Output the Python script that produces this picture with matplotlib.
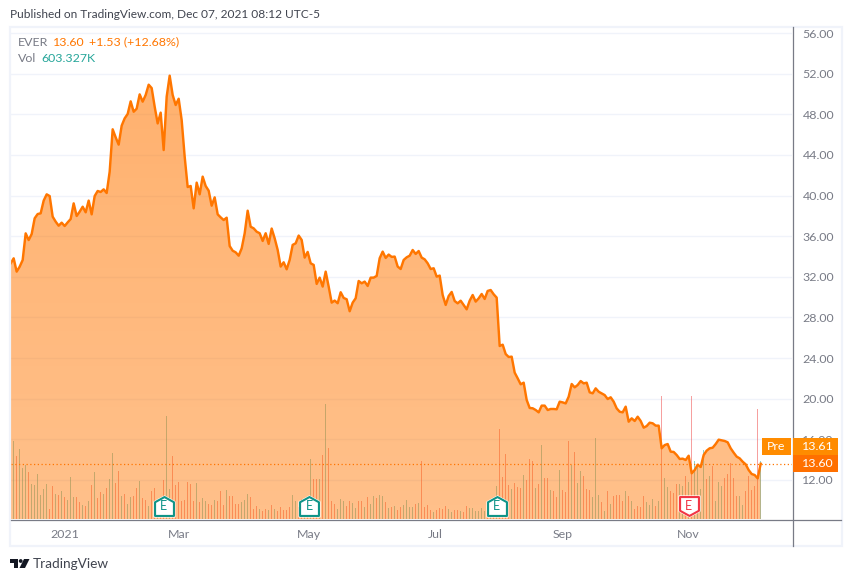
import numpy as np
import matplotlib
matplotlib.use("Agg")
import matplotlib.pyplot as plt
from matplotlib.lines import Line2D
from matplotlib.patches import Rectangle, Polygon, Circle
from matplotlib.path import Path
from matplotlib.colors import to_rgb

plt.rcParams['font.family'] = ['Lato', 'DejaVu Sans']

price = [
33.33,33.82,32.51,33.0,33.65,36.28,35.62,36.21,37.76,38.18,38.25,39.5,40.12,39.95,37.92,37.43,37.03,37.33,37.0,37.36,
37.69,39.23,37.99,38.41,38.9,38.35,39.5,38.15,39.95,40.45,40.35,40.61,40.25,42.35,46.52,45.73,45.01,46.88,47.6,48.03,
49.27,48.25,48.55,49.96,49.24,49.9,50.91,50.58,48.75,47.1,48.16,44.48,49.73,51.8,49.9,48.91,49.53,47.43,43.83,40.84,
40.94,38.74,41.27,40.12,41.86,40.94,40.48,39.0,39.82,38.15,37.85,37.59,37.82,35.03,34.57,34.41,34.08,34.8,36.28,38.51,
36.93,36.77,36.44,
36.29,35.53,36.29,35.24,36.75,35.79,34.65,33.01,33.43,32.74,33.66,35.14,35.3,36.06,35.63,33.89,34.45,33.33,33.17,31.3,
31.92,31.04,32.51,31.04,29.46,29.66,29.4,30.48,29.92,29.79,28.61,29.46,29.89,31.59,31.36,31.53,31.1,31.92,31.92,32.09,
33.83,34.48,33.86,34.19,33.96,33.99,33.01,
32.77,33.66,33.92,34.08,34.64,34.25,34.54,33.89,33.72,33.33,32.77,32.84,32.02,32.12,30.21,29.23,30.11,30.51,29.62,29.39,
29.65,29.23,28.8,29.65,30.21,29.56,29.88,30.31,29.82,30.61,30.7,30.28,29.95,25.19,25.32,24.4,24.11,24.14,22.57,22.01,
21.42,21.58,19.88,19.09,19.06,18.89,18.66,19.32,19.32,18.89,18.99,18.99,18.96,19.71,
19.64,19.54,20.2,21.45,21.12,21.35,21.74,21.51,21.58,20.63,20.53,21.02,20.69,20.53,20.36,19.97,20.14,19.71,19.05,18.72,
18.66,19.22,17.74,18.07,17.81,18.23,17.81,17.15,17.31,17.64,17.58,17.35,17.35,15.12,15.44,15.54,14.79,14.76,14.46,14.07,
14.1,13.97,14.39,12.66,12.98,13.51,13.28,14.46,14.89,15.12,15.18,15.54,15.97,15.9,15.84,15.71,15.12,14.69,14.3,14.13,
13.8,13.54,12.98,12.59,12.49,12.16,13.6]

volume = [
3.0,7.8,6.3,7.0,5.1,5.4,4.7,3.5,3.4,4.5,2.4,3.0,3.5,1.0,3.3,2.5,2.4,2.8,2.2,1.9,
4.2,2.2,2.2,1.7,1.4,1.3,1.8,3.4,4.7,2.1,2.7,2.5,3.1,4.0,6.6,3.6,4.8,2.3,2.5,1.5,
2.2,2.3,3.1,3.8,2.1,1.9,1.3,2.8,3.1,2.0,1.8,3.9,10.3,3.0,6.3,3.4,3.7,1.8,1.9,3.7,
3.5,1.8,3.6,1.7,2.1,1.8,1.5,1.4,1.9,1.8,2.8,1.4,2.9,2.3,2.3,1.5,1.5,1.7,1.9,2.5,
2.2,1.0,1.3,1.0,0.8,1.0,0.9,1.4,1.0,0.8,1.2,0.9,0.9,1.2,2.4,1.8,1.2,2.0,1.5,2.0,
6.0,4.0,4.0,4.0,6.4,11.5,7.1,1.8,1.5,1.0,2.0,1.8,1.3,1.8,1.6,1.1,1.8,1.8,1.2,2.2,
1.5,2.3,2.1,2.4,2.3,1.7,1.1,1.2,1.3,0.9,1.2,1.4,1.9,1.2,1.2,1.5,1.6,5.8,1.2,1.4,
0.9,0.7,0.9,1.1,1.0,1.3,1.0,0.7,0.9,0.9,0.8,0.7,1.3,1.1,1.1,0.8,0.8,1.1,0.8,1.5,
1.0,1.5,3.3,9.0,4.2,6.5,3.4,3.0,3.6,3.2,3.1,4.4,3.9,6.0,5.8,3.1,3.5,7.4,4.1,4.1,
2.9,2.8,2.2,4.9,2.9,2.7,7.8,5.4,6.7,3.6,4.8,4.3,3.0,2.9,2.2,8.1,2.4,
1.7,0.8,2.8,1.5,2.3,2.4,2.4,1.8,2.8,2.3,1.8,1.0,1.3,1.2,2.3,1.7,1.4,2.0,1.3,1.8,
12.3,4.1,3.2,2.8,2.6,3.5,3.5,3.3,4.3,3.7,12.3,5.8,5.2,3.0,6.9,4.0,4.3,5.3,1.8,3.7,
3.3,4.1,4.5,5.6,4.1,2.3,2.3,1.4,2.8,4.3,2.9,3.3,11.0,5.8]

direction = list(
"DUDUUUDUUU" "UUUDDUDUDU" "UUDDUDUDUD" "DUDUUDDUDU" "UDDUDDUDDU"
"DDUUDDDDDD" "DDUDUUDDUD" "DDUDDDDUUU" "DDDUDDUDUD" "DDDDUUDDUD"
"UDDUDUDDDU" "UUDDUUDDUD" "UUDUUDUDUD" "DUUUUDUDDD" "DUDDDDUUDD"
"UDDUUUUUUD" "UDUDDDDUDD" "DUDDDUDUDD" "UDDUDDDUDU" "UDDDUUU"
"DUDUDDDDUD" "UDDDDUUUDU" "DUUDDDUUDU" "DUUUUDUDUU" "UDDDDDUUDD" "DDDU")

price_ticks = [12, 16, 20, 24, 28, 32, 36, 40, 44, 48, 52, 56]
month_labels = ["2021", "Mar", "May", "Jul", "Sep", "Nov"]
month_index = [18, 56, 99.5, 141.5, 184, 226]
earn_index = [51, 99.5, 162, 226]
earn_beat = [True, True, True, False]

ORANGE = "#ff7600"
GREY = "#787b86"
FRAME = "#f0f3fa"
W, H = 852, 582
PX_PER_UNIT = 447 / 44.0
FS = 8.9

fig = plt.figure(figsize=(W / 100, H / 100), dpi=100, facecolor="white")


def fx(x):
    return x / W


def fy(y):
    return 1 - y / H


def ftext(x, y, s, color, size=FS, ha="left", **kw):
    return fig.text(fx(x), fy(y), s, color=color, fontsize=size, ha=ha, va="center", zorder=12, **kw)


ax = fig.add_axes([fx(11), fy(519), 781 / W, 491 / H])
x = np.arange(len(price))
price_arr = np.array(price)
ymin = 12 - (519 - 480) / PX_PER_UNIT
ymax = 56 + (33 - 28) / PX_PER_UNIT
xmin, xmax = 0.11, 260.44

ax.set_axisbelow(True)
ax.grid(axis="y", color=FRAME, lw=1)
ax.set_yticks(price_ticks)
ax.set_yticklabels([f"{v:.2f}" for v in price_ticks], color=GREY, fontsize=FS)
ax.yaxis.tick_right()
ax.tick_params(axis="y", length=0, pad=7.5)
ax.set_xticks(month_index)
ax.set_xticklabels(month_labels, color=GREY, fontsize=FS)
ax.tick_params(axis="x", length=0, pad=7)
for s in ax.spines.values():
    s.set_visible(False)

vol_scale = 10 / PX_PER_UNIT
colors = [(0.149, 0.651, 0.604, 0.5) if d == "U" else (0.937, 0.325, 0.314, 0.55) for d in direction]
ax.bar(x, np.array(volume) * vol_scale, bottom=ymin, width=0.36, color=colors, linewidth=0, zorder=1)

fill = ax.fill_between(x, price_arr, ymin, facecolor="none", edgecolor="none")
rgb = to_rgb(ORANGE)
grad = np.zeros((64, 1, 4))
grad[..., :3] = rgb
grad[..., 3] = np.linspace(0.57, 0.46, 64)[:, None]
img = ax.imshow(grad, extent=[xmin, xmax, ymin, 52], origin="upper", aspect="auto", zorder=1.5)
img.set_clip_path(fill.get_paths()[0], ax.transData)

ax.plot(x, price_arr, color=ORANGE, lw=1.75, zorder=4, solid_joinstyle="round")
ax.axhline(price[-1], color=ORANGE, lw=0.9, ls=(0, (1, 2)), zorder=3.5)

house_up = Path([(-1, -1), (1, -1), (1, 0.45), (0, 1), (-1, 0.45), (-1, -1)], closed=True)
house_dn = Path([(-1, 1), (1, 1), (1, -0.45), (0, -1), (-1, -0.45), (-1, 1)], closed=True)
trans = ax.get_xaxis_transform()
for i, beat in zip(earn_index, earn_beat):
    col = "#0f9488" if beat else "#f23645"
    m = house_up if beat else house_dn
    ax.plot([i], [13 / 491], transform=trans, marker=m, ms=15, mfc="white", mec="white", mew=1.0, zorder=5, clip_on=False)
    ax.plot([i], [13 / 491], transform=trans, marker=m, ms=13.6, mfc="white", mec=col, mew=1.5, zorder=6, clip_on=False)
    ax.text(i, 13 / 491, "E", transform=trans, color=col, fontsize=9, ha="center", va="center", zorder=7)

ax.set_xlim(xmin, xmax)
ax.set_ylim(ymin, ymax)

# Frame, axis lines
fig.add_artist(Rectangle((fx(10), fy(546)), 832 / W, 519 / H, transform=fig.transFigure,
                         fc="none", ec=FRAME, lw=1.6, zorder=8))
fig.add_artist(Line2D([fx(792.5), fx(792.5)], [fy(27), fy(546)], color=GREY, lw=0.9, zorder=9))
fig.add_artist(Line2D([fx(11), fx(841)], [fy(519.5), fy(519.5)], color=GREY, lw=0.9, zorder=9))

# Header legend
ftext(10, 15, "Published on TradingView.com, Dec 07, 2021 08:12 UTC-5", "#40444f", size=8.6)
ftext(18, 42, "EVER", GREY)
ftext(53, 42, "13.60", ORANGE)
ftext(89, 42, "+1.53 (+12.68%)", ORANGE)
ftext(18, 59, "Vol", GREY)
ftext(41.5, 59, "603.327K", "#26a69a")

# Price badges
fig.add_artist(Rectangle((fx(762), fy(454.7)), 29 / W, 16.7 / H, transform=fig.transFigure, fc="#ff8c00", ec="none", zorder=10))
fig.add_artist(Rectangle((fx(793), fy(454.7)), 45 / W, 16.7 / H, transform=fig.transFigure, fc="#ff8c00", ec="none", zorder=10))
fig.add_artist(Rectangle((fx(793), fy(471.5)), 45 / W, 16.5 / H, transform=fig.transFigure, fc="#ff7000", ec="none", zorder=10))
ftext(776.5, 446.5, "Pre", "white", ha="center")
ftext(817.5, 446.5, "13.61", "white", ha="center")
ftext(817.5, 463.5, f"{price[-1]:.2f}", "white", ha="center")

# TradingView logo and name
LOGO = "#131722"
fig.add_artist(Rectangle((fx(10), fy(563)), 8 / W, 4 / H, transform=fig.transFigure, fc=LOGO, ec="none", zorder=10))
fig.add_artist(Rectangle((fx(14), fy(568)), 4 / W, 9 / H, transform=fig.transFigure, fc=LOGO, ec="none", zorder=10))
fig.add_artist(Polygon([(fx(24), fy(559)), (fx(29.5), fy(559)), (fx(25), fy(568)), (fx(19.5), fy(568))],
                       transform=fig.transFigure, fc=LOGO, ec="none", zorder=10))
fig.add_artist(Circle((20.7, H - 561), 1.9, transform=None, fc=LOGO, ec="none", zorder=10))
ftext(33, 564, "TradingView", "#40444f", size=9.8)

fig.savefig("out.png", dpi=100, facecolor="white")
